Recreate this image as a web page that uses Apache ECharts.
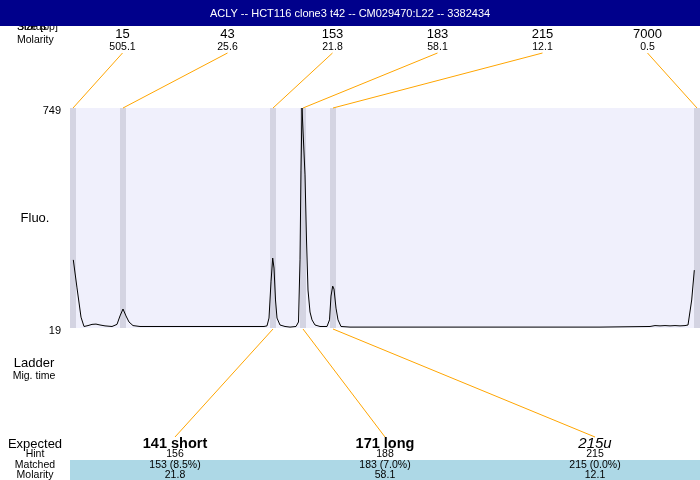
<!DOCTYPE html>
<html>
<head>
<meta charset="utf-8">
<script src="https://cdn.jsdelivr.net/npm/echarts@6/dist/echarts.min.js"></script>
<style>html,body{margin:0;padding:0;background:#fff}#c{width:700px;height:480px}</style>
</head>
<body>
<div id="c"></div>
<script>
// ---- data ----
const titleText = 'ACLY -- HCT116 clone3 t42 -- CM029470:L22 -- 3382434';
const ladderSizes = ['15', '43', '153', '183', '215', '7000'];
const ladderMolarity = ['505.1', '25.6', '21.8', '58.1', '12.1', '0.5'];
const ladderTimes = [3, 53, 203, 233, 263, 627];
const fluoRange = [19, 749];
const traceTime = [3.3, 7, 11, 14, 18, 22, 26, 30, 35, 42, 47, 50, 53, 56, 59, 63, 70, 130, 194, 197, 199, 201, 202.7, 204, 205.5, 207, 210, 215, 220, 226, 228.5, 230, 231, 232, 233.5, 235, 236.5, 238, 240, 242, 245, 250, 257, 259.5, 261, 262.7, 264, 266, 268, 271, 280, 306, 308, 310, 395, 397, 399, 530, 580, 585, 590, 595, 600, 605, 610, 615, 618, 620, 621.7, 624.3];
const traceFluo = [245, 152, 55, 24, 27, 31, 32, 29, 26, 24, 31, 59, 82, 59, 39, 27, 24, 24, 24, 26, 52, 172, 251, 218, 112, 52, 29, 24, 22, 24, 39, 245, 543, 749, 749, 527, 311, 145, 72, 46, 29, 24, 24, 46, 125, 158, 148, 85, 46, 24, 22, 22, 26, 22, 22, 26, 22, 22, 24, 27, 26, 27, 26, 27, 26, 27, 29, 26, 112, 211];
const expectedNames = ['141 short', '171 long', '215u'];
const expectedStyles = ['bold', 'bold', 'italic'];
const expectedHints = ['156', '188', '215'];
const matchedText = ['153 (8.5%)', '183 (7.0%)', '215 (0.0%)'];
const matchedMolarity = ['21.8', '58.1', '12.1'];
const matchedLadder = [2, 3, 4];

// ---- layout ----
const FONT = "'Liberation Sans', Arial, sans-serif";
const G = {left: 70, top: 108, width: 630, height: 220};
const chart = echarts.init(document.getElementById('c'), null, {renderer: 'canvas'});

const bands = ladderTimes.map(t => [{xAxis: t - 3}, {xAxis: t + 3}]);

chart.setOption({
  animation: false,
  grid: {left: G.left, top: G.top, width: G.width, height: G.height, show: true, backgroundColor: '#f0f0fc', borderWidth: 0},
  xAxis: {type: 'value', min: 0, max: 630, show: false},
  yAxis: {
    type: 'value', min: fluoRange[0], max: fluoRange[1],
    axisLine: {show: false}, axisTick: {show: false}, splitLine: {show: false},
    axisLabel: {customValues: fluoRange, margin: 9, color: '#000', fontSize: 11, fontFamily: FONT, verticalAlign: 'top', lineHeight: 6}
  },
  series: [{
    type: 'line', symbol: 'none', silent: true,
    lineStyle: {color: '#000', width: 1},
    data: traceTime.map((t, i) => [t, traceFluo[i]]),
    markArea: {silent: true, itemStyle: {color: '#d4d4e2'}, label: {show: false}, data: bands}
  }]
});

function txt(x, y, text, size, opts) {
  opts = opts || {};
  return {type: 'text', x: x, y: y, z: opts.z || 20, style: {
    text: text, fill: opts.fill || '#000', fontSize: size, fontFamily: FONT,
    fontWeight: opts.weight || 'normal', fontStyle: opts.style || 'normal',
    align: opts.align || 'center', verticalAlign: 'middle'
  }};
}
function ln(x1, y1, x2, y2) {
  return {type: 'line', z: 15, shape: {x1: x1, y1: y1, x2: x2, y2: y2}, style: {stroke: '#ffa500', lineWidth: 1}};
}

const els = [];
// left texts under the header
els.push(txt(17, 27, 'Status', 10.5, {align: 'left', z: 5}));
els.push(txt(17, 27, 'Size [bp]', 10.5, {align: 'left', z: 5}));
els.push({type: 'rect', z: 10, shape: {x: 0, y: 0, width: 700, height: 26}, style: {fill: '#00008b'}});
els.push(txt(350, 13.5, titleText, 11, {fill: '#fff'}));
els.push(txt(17, 40, 'Molarity', 10.5, {align: 'left'}));
els.push(txt(35, 218, 'Fluo.', 13));
els.push(txt(34, 363, 'Ladder', 13));
els.push(txt(34, 376, 'Mig. time', 10.5));
els.push(txt(35, 444, 'Expected', 13));
els.push(txt(35, 454.5, 'Hint', 10.5));
els.push(txt(35, 465, 'Matched', 10.5));
els.push(txt(35, 475, 'Molarity', 10.5));

// top ladder columns
const topCol = G.width / ladderSizes.length;
ladderSizes.forEach((s, i) => {
  const cx = G.left + topCol * (i + 0.5);
  const bx = chart.convertToPixel({xAxisIndex: 0}, ladderTimes[i]);
  els.push(txt(cx, 34, s, 13));
  els.push(txt(cx, 47, ladderMolarity[i], 10.5));
  els.push(ln(cx, 53, bx, G.top));
});

// bottom matched band
els.push({type: 'rect', z: 1, shape: {x: G.left, y: 460, width: G.width, height: 20}, style: {fill: '#add8e6'}});
const botCol = G.width / expectedNames.length;
expectedNames.forEach((n, i) => {
  const cx = G.left + botCol * (i + 0.5);
  const bx = chart.convertToPixel({xAxisIndex: 0}, ladderTimes[matchedLadder[i]]);
  const st = expectedStyles[i];
  els.push(txt(cx, 444, n, st === 'italic' ? 15 : 14.5, {weight: st === 'bold' ? 'bold' : 'normal', style: st === 'italic' ? 'italic' : 'normal'}));
  els.push(txt(cx, 454.5, expectedHints[i], 10.5));
  els.push(txt(cx, 465, matchedText[i], 10.5));
  els.push(txt(cx, 475, matchedMolarity[i], 10.5));
  els.push(ln(bx, G.top + G.height + 1, cx, 437));
});

chart.setOption({graphic: {elements: els}});
</script>
</body>
</html>
